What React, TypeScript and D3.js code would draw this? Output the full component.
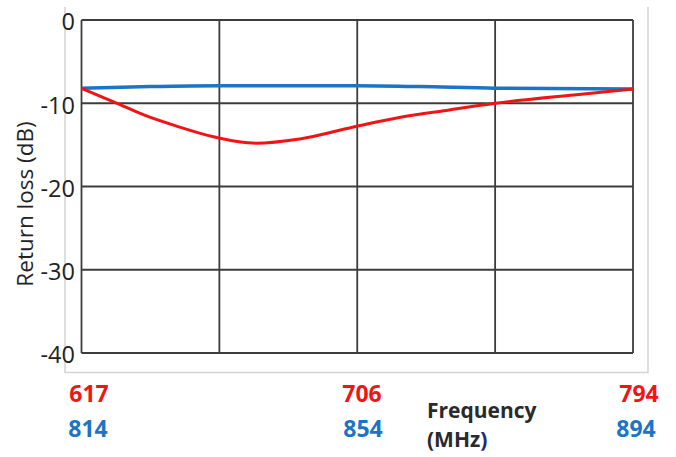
import React from "react";
import * as d3 from "d3";

const yTicks = [0, -10, -20, -30, -40];
const gridFractions = [0, 0.25, 0.5, 0.75, 1];

// red band: frequency (MHz) vs return loss (dB)
const redFreq = [617, 629, 637, 648, 659, 667, 673, 687, 706, 719, 735, 750, 775, 794];
const redLoss = [-8.2, -10.1, -11.4, -12.8, -14.0, -14.6, -14.8, -14.3, -12.7, -11.7, -10.8, -10.0, -9.0, -8.3];

// blue band
const blueFreq = [814, 824, 834, 854, 863, 874, 894];
const blueLoss = [-8.2, -8.0, -7.9, -7.9, -8.0, -8.2, -8.3];

const redTickLabels = ["617", "706", "794"];
const blueTickLabels = ["814", "854", "894"];

const W = 676;
const H = 457;
const L = 81.5, R = 633, T = 20, B = 353;

export default function App() {
  const xRed = d3.scaleLinear().domain([617, 794]).range([L, R]);
  const xBlue = d3.scaleLinear().domain([814, 894]).range([L, R]);
  const xFrac = d3.scaleLinear().domain([0, 1]).range([L, R]);
  const y = d3.scaleLinear().domain([0, -40]).range([T, B]);

  const redLine = d3
    .line<number>()
    .x((_, i) => xRed(redFreq[i]))
    .y((d) => y(d))
    .curve(d3.curveMonotoneX)(redLoss) as string;
  const blueLine = d3
    .line<number>()
    .x((_, i) => xBlue(blueFreq[i]))
    .y((d) => y(d))
    .curve(d3.curveMonotoneX)(blueLoss) as string;

  const font = "'Open Sans', 'DejaVu Sans', sans-serif";
  const gridColor = "#3c3c3c";

  return (
    <svg
      width={W}
      height={H}
      viewBox={`0 0 ${W} ${H}`}
      style={{ position: "fixed", left: 0, top: 0, background: "#fff" }}
    >
      <rect x={0} y={0} width={W} height={H} fill="#fff" />
      {/* light outer frame */}
      <path d={`M65,7 V372.5 H648 V7`} fill="none" stroke="#d4d4d4" strokeWidth={1.5} />

      {/* grid */}
      {gridFractions.map((f, i) => (
        <line key={"v" + i} x1={xFrac(f)} x2={xFrac(f)} y1={T} y2={B} stroke={gridColor} strokeWidth={1.8} />
      ))}
      {yTicks.map((t, i) => (
        <line key={"h" + i} x1={L} x2={R} y1={y(t)} y2={y(t)} stroke={gridColor} strokeWidth={1.8} />
      ))}

      {/* y tick labels */}
      {yTicks.map((t, i) => (
        <text
          key={"yt" + i}
          x={75}
          y={y(t) + 4}
          textAnchor="end"
          dominantBaseline="middle"
          fontFamily={font}
          fontSize={23.5}
          fill="#222"
        >
          {t}
        </text>
      ))}

      {/* y axis title */}
      <text
        transform={`translate(33,204) rotate(-90)`}
        textAnchor="middle"
        fontFamily={font}
        fontSize={22.5}
        fill="#222"
      >
        Return loss (dB)
      </text>

      {/* curves */}
      <path d={blueLine} fill="none" stroke="#1b74c5" strokeWidth={3.5} strokeLinejoin="round" />
      <path d={redLine} fill="none" stroke="#f21414" strokeWidth={3} strokeLinejoin="round" />

      {/* frequency labels */}
      {redTickLabels.map((s, i) => {
        const xs = [89, 362, 639];
        return (
          <text key={"r" + i} x={xs[i]} y={402} textAnchor="middle" fontFamily={font} fontWeight="bold" fontSize={23} fill="#f21414">
            {s}
          </text>
        );
      })}
      {blueTickLabels.map((s, i) => {
        const xs = [88, 363, 636];
        return (
          <text key={"b" + i} x={xs[i]} y={437} textAnchor="middle" fontFamily={font} fontWeight="bold" fontSize={23} fill="#1b74c5">
            {s}
          </text>
        );
      })}
      <text x={427} y={418} fontFamily={font} fontWeight="bold" fontSize={21} fill="#2a2a2a">
        Frequency
      </text>
      <text x={427} y={447} fontFamily={font} fontWeight="bold" fontSize={21} fill="#2a2a2a">
        (MHz<tspan fill="#1a2a70">)</tspan>
      </text>
    </svg>
  );
}
